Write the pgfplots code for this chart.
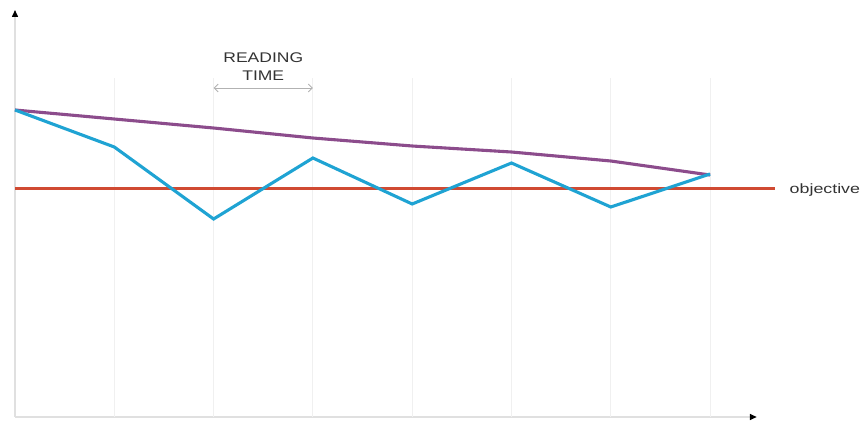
\documentclass[border=0pt]{standalone}
\usepackage{pgfplots}
\pgfplotsset{compat=1.18}
\usepackage{graphicx}
\usepackage{fontspec}
\setmainfont{Liberation Sans}
\usetikzlibrary{arrows.meta}
\definecolor{cblue}{HTML}{1FA3D3}
\definecolor{cpurple}{HTML}{8C4C8C}
\definecolor{cred}{HTML}{D04A32}
\definecolor{ctext}{HTML}{333333}
\pgfplotstableread{
x y
0 307
1 270
2 198
3 259
4 213
5 254
6 210
7 243
}\bluedata
\pgfplotstableread{
x y
0 307
1 298
2 289
3 279
4 271
5 265
6 256
7 242
}\purpledata
\begin{document}
\begin{tikzpicture}
\useasboundingbox (-15bp,-13bp) rectangle (846bp,417bp);
\begin{axis}[
  anchor=origin, at={(0,0)},
  x=99.3bp, y=1bp,
  xmin=0, xmax=7.47, ymin=0, ymax=407,
  axis lines=left,
  xtick=\empty, ytick=\empty,
  x axis line style={draw=black!12, line width=1.5bp, -{Triangle[color=black,length=7bp,width=6bp]}},
  y axis line style={draw=black!12, line width=1.5bp, -{Triangle[color=black,length=7bp,width=6bp]}},
  clip=false,
]
\addplot[ycomb, no marks, draw=black!6, line width=0.9bp] coordinates {(1,339) (2,339) (3,339) (4,339) (5,339) (6,339) (7,339)};
\addplot[no marks, draw=cred, line width=3bp] coordinates {(0,228.5) (7.65,228.5)};
\addplot[no marks, draw=cpurple, line width=3.1bp] table[x=x,y=y] {\purpledata};
\addplot[no marks, draw=cblue, line width=3.1bp] table[x=x,y=y] {\bluedata};
\draw[black!30, line width=0.9bp, {Straight Barb[length=4bp,width=8bp]}-{Straight Barb[length=4bp,width=8bp]}] (axis cs:2,329) -- (axis cs:3,329);
\node[anchor=base, text=ctext, font=\fontsize{14bp}{16bp}\selectfont, inner sep=0pt] at (axis cs:2.5,355) {\scalebox{1.25}[1]{READING}};
\node[anchor=base, text=ctext, font=\fontsize{14bp}{16bp}\selectfont, inner sep=0pt] at (axis cs:2.5,337) {\scalebox{1.25}[1]{TIME}};
\node[anchor=base west, text=ctext, font=\fontsize{13.5bp}{16bp}\selectfont, inner sep=0pt] at (axis cs:7.80,224) {\scalebox{1.32}[1]{objective}};
\end{axis}
\end{tikzpicture}
\end{document}
